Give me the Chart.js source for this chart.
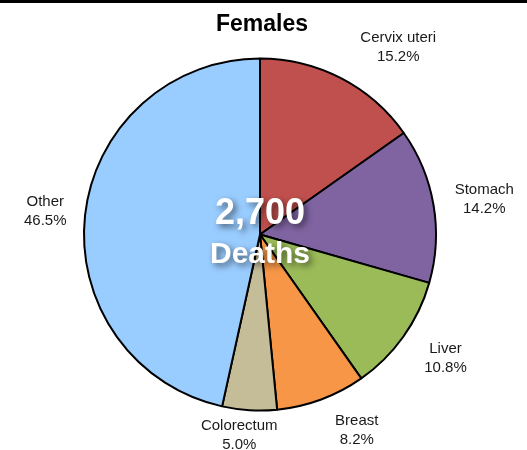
<!DOCTYPE html>
<html><head><meta charset="utf-8">
<script src="https://cdn.jsdelivr.net/npm/chart.js@4/dist/chart.umd.min.js"></script>
<style>html,body{margin:0;padding:0;background:#fff}#wrap{width:527px;height:450px;position:relative}</style>
</head><body><div id="wrap"><canvas id="c" width="527" height="450"></canvas></div>
<script>
const categories = ["Cervix uteri", "Stomach", "Liver", "Breast", "Colorectum", "Other"];
const percentages = [15.2, 14.2, 10.8, 8.2, 5.0, 46.5];
const sliceColors = ["#C0504D", "#8064A2", "#9BBB59", "#F79646", "#C4BD97", "#99CCFF"];
const titleText = "Females";
const totalDeaths = "2,700";
const totalLabel = "Deaths";
// label placement nudges: [angle shift in degrees, extra distance beyond radius]
const labelNudge = [[9, 57], [0.7, 51], [-1.7, 47], [-6, 42], [2.5, 25], [0, 40]];

const FONT = "'Liberation Sans', Arial, Helvetica, sans-serif";

const overlay = {
  id: 'overlay',
  afterDraw(chart) {
    const ctx = chart.ctx;
    const meta = chart.getDatasetMeta(0);
    ctx.save();
    // top rule
    ctx.fillStyle = '#000';
    ctx.fillRect(0, 0, chart.width, 3);
    // title
    ctx.fillStyle = '#000';
    ctx.font = 'bold 23px ' + FONT;
    ctx.textAlign = 'center';
    ctx.textBaseline = 'middle';
    ctx.fillText(titleText, 262, 25);
    // labels
    ctx.font = '15px ' + FONT;
    ctx.fillStyle = '#1a1a1a';
    meta.data.forEach((arc, i) => {
      const p = arc.getProps(['x', 'y', 'startAngle', 'endAngle', 'outerRadius'], true);
      const mid = (p.startAngle + p.endAngle) / 2 + labelNudge[i][0] * Math.PI / 180;
      const d = p.outerRadius + labelNudge[i][1];
      const lx = p.x + Math.cos(mid) * d;
      const ly = p.y + Math.sin(mid) * d;
      ctx.fillText(categories[i], lx, ly - 9);
      ctx.fillText(percentages[i].toFixed(1) + '%', lx, ly + 10);
    });
    // center text
    const a0 = meta.data[0];
    const cx = a0.x, cy = a0.y;
    ctx.shadowColor = 'rgba(0,0,0,0.55)';
    ctx.shadowBlur = 6;
    ctx.shadowOffsetX = 3;
    ctx.shadowOffsetY = 3;
    ctx.fillStyle = '#fff';
    ctx.font = 'bold 36px ' + FONT;
    ctx.fillText(totalDeaths, cx, cy - 20);
    ctx.font = 'bold 30px ' + FONT;
    ctx.fillText(totalLabel, cx, cy + 20);
    ctx.restore();
  }
};

new Chart(document.getElementById('c'), {
  type: 'pie',
  data: {
    labels: categories,
    datasets: [{
      data: percentages,
      backgroundColor: sliceColors,
      borderColor: '#000',
      borderWidth: 2
    }]
  },
  options: {
    responsive: false,
    animation: false,
    layout: { padding: { left: 83, right: 90, top: 57, bottom: 38 } },
    plugins: { legend: { display: false }, tooltip: { enabled: false }, title: { display: false } }
  },
  plugins: [overlay]
});
</script></body></html>
